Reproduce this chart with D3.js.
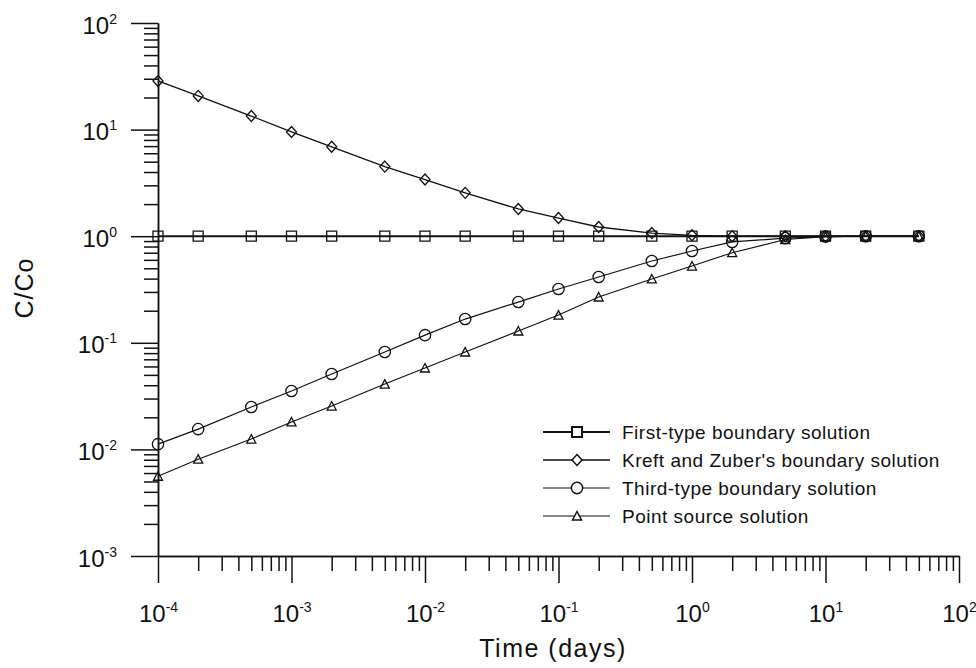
<!DOCTYPE html>
<html>
<head>
<meta charset="utf-8">
<script src="https://cdn.jsdelivr.net/npm/d3@7"></script>
<style>
    body { margin: 0; background: #fff; }
    text { font-family: "Liberation Sans", Arial, sans-serif; fill: #111; }
</style>
</head>
<body>
<div id="chart-area"></div>
<script>

// time points (days)
let times = [1e-4, 2e-4, 5e-4, 1e-3, 2e-3, 5e-3, 1e-2, 2e-2, 5e-2, 0.1, 0.2, 0.5, 1, 2, 5, 10, 20, 50];

// C/Co for each solution
let firstType = [1, 1, 1, 1, 1, 1, 1, 1, 1, 1, 1, 1, 1, 1, 1, 1, 1, 1];
let kreftZuber = [28.6, 20.7, 13.4, 9.5, 6.9, 4.5, 3.4, 2.55, 1.8, 1.48, 1.22, 1.07, 1.02, 1.0, 1.0, 1.0, 1.0, 1.0];
let thirdType = [0.0112, 0.0155, 0.025, 0.0353, 0.0509, 0.082, 0.118, 0.167, 0.241, 0.32, 0.414, 0.585, 0.726, 0.883, 0.96, 0.99, 1.0, 1.0];
let pointSource = [0.0056, 0.0081, 0.0125, 0.0181, 0.0255, 0.041, 0.058, 0.082, 0.129, 0.182, 0.269, 0.397, 0.525, 0.70, 0.93, 0.99, 1.0, 1.0];

let seriesNames = ["First-type boundary solution", "Kreft and Zuber's boundary solution", "Third-type boundary solution", "Point source solution"];

// axis decades
let xDecades = [-4, -3, -2, -1, 0, 1, 2];
let yDecades = [-3, -2, -1, 0, 1, 2];


class LogChart {

    constructor(parentElement) {
        this.parentElement = parentElement;
        this.initVis();
    }

    initVis() {
        let vis = this;

        vis.width = 976;
        vis.height = 668;

        vis.svg = d3.select("#" + vis.parentElement).append("svg")
            .attr("width", vis.width)
            .attr("height", vis.height);

        vis.x = d3.scaleLog().domain([1e-4, 1e2]).range([158, 959]);
        vis.y = d3.scaleLog().domain([1e-3, 1e2]).range([556, 23]);

        vis.series = [
            {name: seriesNames[0], values: firstType, symbol: "square", width: 2},
            {name: seriesNames[1], values: kreftZuber, symbol: "diamond", width: 1.3},
            {name: seriesNames[2], values: thirdType, symbol: "circle", width: 1.2},
            {name: seriesNames[3], values: pointSource, symbol: "triangle", width: 1.1}
        ];

        vis.drawAxes();
        vis.drawSeries();
        vis.drawLegend();
    }

    minorTicks(decades) {
        let ticks = [];
        decades.slice(0, -1).forEach(d => {
            for (let m = 2; m <= 9; m++) ticks.push(m * Math.pow(10, d));
        });
        return ticks;
    }

    drawAxes() {
        let vis = this;

        let xMajor = xDecades.map(d => Math.pow(10, d));
        let yMajor = yDecades.map(d => Math.pow(10, d));

        // minor ticks
        vis.svg.append("g")
            .attr("transform", "translate(0,556)")
            .call(d3.axisBottom(vis.x).tickValues(vis.minorTicks(xDecades)).tickSize(15).tickSizeOuter(0).tickFormat(""));
        vis.svg.append("g")
            .attr("transform", "translate(158,0)")
            .call(d3.axisLeft(vis.y).tickValues(vis.minorTicks(yDecades)).tickSize(14).tickSizeOuter(0).tickFormat(""));

        // major ticks
        vis.xAxisGroup = vis.svg.append("g")
            .attr("transform", "translate(0,556)")
            .call(d3.axisBottom(vis.x).tickValues(xMajor).tickSize(27).tickSizeOuter(0).tickFormat(""));
        vis.yAxisGroup = vis.svg.append("g")
            .attr("transform", "translate(158,0)")
            .call(d3.axisLeft(vis.y).tickValues(yMajor).tickSize(27).tickSizeOuter(0).tickFormat(""));

        vis.svg.selectAll(".domain, .tick line")
            .attr("stroke", "#111")
            .attr("stroke-width", 1.5);

        // power-of-ten labels
        vis.xAxisGroup.selectAll(".tick").each(function(d) {
            let t = d3.select(this).append("text")
                .attr("y", 66)
                .attr("text-anchor", "middle")
                .attr("font-size", 24);
            t.append("tspan").text("10");
            t.append("tspan").attr("dy", -10).attr("font-size", 14).text(Math.round(Math.log10(d)));
        });
        vis.yAxisGroup.selectAll(".tick").each(function(d) {
            let t = d3.select(this).append("text")
                .attr("x", -41)
                .attr("y", 10)
                .attr("text-anchor", "end")
                .attr("font-size", 24);
            t.append("tspan").text("10");
            t.append("tspan").attr("dy", -10).attr("font-size", 14).text(Math.round(Math.log10(d)));
        });

        // axis titles
        vis.svg.append("text")
            .attr("x", 553)
            .attr("y", 657)
            .attr("text-anchor", "middle")
            .attr("font-size", 25)
            .attr("letter-spacing", 1.5)
            .text("Time (days)");

        vis.svg.append("text")
            .attr("transform", "translate(33,288) rotate(-90)")
            .attr("text-anchor", "middle")
            .attr("font-size", 25)
            .attr("letter-spacing", 1)
            .text("C/Co");
    }

    symbolPath(type) {
        switch (type) {
            case "square": return d3.symbol(d3.symbolSquare, 100)();
            case "diamond": return "M0,-5.5L5,0L0,5.5L-5,0Z";
            case "circle": return d3.symbol(d3.symbolCircle, 100)();
            case "triangle": return "M0,-4.5L4.5,4L-4.5,4Z";
        }
    }

    drawSeries() {
        let vis = this;

        let line = d3.line()
            .x((d, i) => vis.x(times[i]))
            .y(d => vis.y(d));

        vis.series.forEach(s => {
            vis.svg.append("path")
                .datum(s.values)
                .attr("fill", "none")
                .attr("stroke", "#111")
                .attr("stroke-width", s.width)
                .attr("d", line);
        });

        vis.series.forEach(s => {
            vis.svg.selectAll(`.${s.symbol}-pt`)
                .data(s.values)
                .enter().append("path")
                .attr("class", `${s.symbol}-pt`)
                .attr("transform", (d, i) => `translate(${vis.x(times[i])},${vis.y(d)})`)
                .attr("d", vis.symbolPath(s.symbol))
                .attr("fill", "none")
                .attr("stroke", "#111")
                .attr("stroke-width", 1.3);
        });
    }

    drawLegend() {
        let vis = this;

        let legend = vis.svg.append("g")
            .attr("transform", "translate(543,432)");

        let rows = legend.selectAll(".legend-row")
            .data(vis.series)
            .enter().append("g")
            .attr("class", "legend-row")
            .attr("transform", (d, i) => `translate(0,${i * 28})`);

        rows.append("line")
            .attr("x1", 0).attr("x2", 67)
            .attr("stroke", "#111")
            .attr("stroke-width", d => d.width);

        rows.append("path")
            .attr("transform", "translate(34,0)")
            .attr("d", d => vis.symbolPath(d.symbol))
            .attr("fill", "#fff")
            .attr("stroke", "#111")
            .attr("stroke-width", (d, i) => i === 0 ? 2 : 1.5);

        rows.append("text")
            .attr("x", 79)
            .attr("y", 7)
            .attr("font-size", 19)
            .attr("letter-spacing", 0.5)
            .attr("fill", "#222")
            .text(d => d.name);
    }
}

new LogChart("chart-area");

</script>
</body>
</html>
